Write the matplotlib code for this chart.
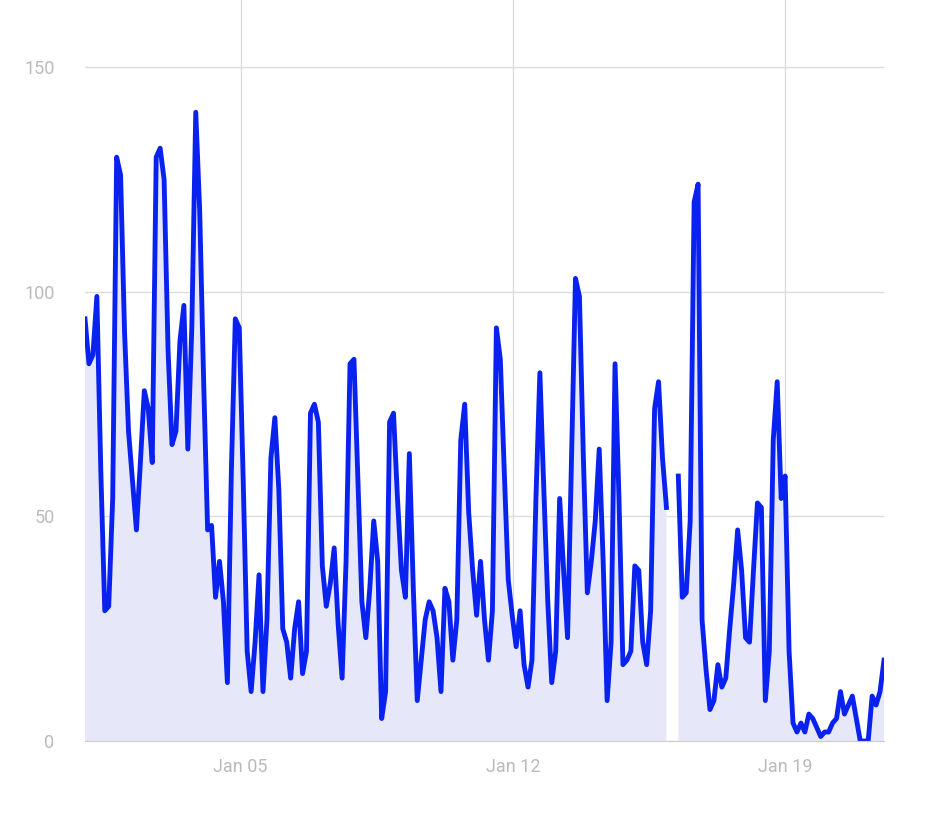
import numpy as np
import pandas as pd
import matplotlib
matplotlib.use("Agg")
import matplotlib.pyplot as plt
import matplotlib.dates as mdates

nan = np.nan
values = [94,84,86,99,60,29,30,54,130,126,91,69,58,47,62,78,74,62,130,132,125,87,66,69,89,97,65,92,140,118,80,47,48,32,40,31,13,60,94,92,58,20,11,22,37,11,27,63,72,56,25,22,14,25,31,15,20,73,75,71,39,30,35,43,26,14,40,84,85,58,31,23,34,49,40,5,11,71,73,54,38,32,64,34,9,18,27,31,29,23,11,34,31,18,27,67,75,51,38,28,40,27,18,29,92,85,60,36,28,21,29,17,12,18,54,82,56,31,13,20,54,38,23,63,103,99,63,33,40,49,65,40,9,22,84,54,17,18,20,39,38,22,17,29,74,80,63,52,nan,nan,59,32,33,49,120,124,27,16,7,9,17,12,14,25,35,47,38,23,22,38,53,52,9,20,67,80,54,59,20,4,2,4,2,6,5,3,1,2,2,4,5,11,6,8,10,5,0,0,0,10,8,11,18]
start, end = "2025-01-01 00:00", "2025-01-21 13:00"
yticks = [0, 50, 100, 150]
tick_dates = ["2025-01-05", "2025-01-12", "2025-01-19"]

times = pd.date_range(start, end, periods=len(values))
v = np.array(values, dtype=float)

fig = plt.figure(figsize=(9.53, 8.36), dpi=100)
ax = fig.add_axes([85/953, 95/836, 799/953, 741/836])
ax.fill_between(times, 0, v, where=~np.isnan(v), color="#e6e8fa", linewidth=0, interpolate=False)
ax.plot(times, v, color="#0a22f0", linewidth=3.5)
ax.set_xlim(times[0], times[-1])
ax.set_ylim(0, 165)
ax.set_yticks(yticks)
ax.set_xticks(pd.to_datetime(tick_dates))
ax.xaxis.set_major_formatter(mdates.DateFormatter("%b %d"))
for s in ["top", "right", "left"]:
    ax.spines[s].set_visible(False)
ax.spines["bottom"].set_color("#cccccc")
ax.grid(True, color="#dddddd", linewidth=1)
ax.set_axisbelow(True)
ax.tick_params(length=0, labelsize=13, colors="#bbbbbb", pad=12)
ax.tick_params(axis="y", pad=22)
for t in ax.get_xticklabels() + ax.get_yticklabels():
    t.set_family("Roboto")
fig.savefig("out.png")
